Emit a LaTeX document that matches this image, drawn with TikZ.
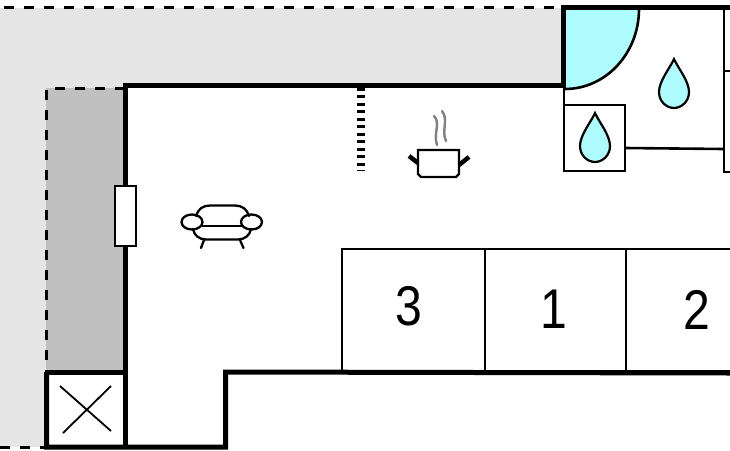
\documentclass[tikz,border=0pt]{standalone}
\usepackage{fontspec}
\setmainfont{Liberation Sans}
\newfontfamily\roomfont[FakeStretch=0.86]{Liberation Sans}
\definecolor{yardgrey}{HTML}{E5E5E5}
\definecolor{terracegrey}{HTML}{C0C0C0}
\definecolor{wetblue}{HTML}{AEFBFD}
\tikzset{
	wall/.style={black, line width=5pt, line join=miter},
	thinwall/.style={black, line width=2.6pt},
	border/.style={black, line width=3pt, dash pattern=on 10pt off 10pt},
	icon/.style={black, line width=2.3pt, line cap=round},
	roombox/.style={draw=black, line width=2pt, outer sep=0pt, minimum width=143pt, minimum height=122pt, anchor=north west},
	roomlabel/.style={inner sep=0pt, font=\roomfont\fontsize{56}{56}\selectfont},
	drop/.style={draw=black, fill=wetblue, line width=2.2pt}
}
\begin{document}
\begin{tikzpicture}[x=1pt, y=-1pt]
\useasboundingbox (0, 0) rectangle (730, 450);

% outside
\fill[yardgrey] (0, 8) -- (563, 8) -- (563, 85) -- (125, 85) -- (125, 88) -- (46, 88) -- (46, 447) -- (0, 447) -- cycle;
\fill[terracegrey] (46, 88) rectangle (125, 372);
\draw[border] (4, 7.5) -- (563, 7.5);
\draw[border] (125, 88) -- (46.5, 88) -- (46.5, 372);
\draw[border] (0, 447) -- (46, 447);

% bathroom
\fill[wetblue] (565, 9) -- (639, 9) arc (0:90:74 and 80) -- cycle;
\draw[thinwall] (639, 9) arc (0:90:74 and 80);
\draw[thinwall] (564, 86) -- (564, 171) -- (625, 171) -- (625, 105) -- (564, 105);
\draw[thinwall] (625, 148) -- (724, 149);
\draw[thinwall] (724, 8) -- (724, 172) -- (730, 172);
\draw[thinwall] (724, 71) -- (730, 71);
\foreach \xa/\ya in {674/59, 595/113} {
	\draw[drop] (\xa, \ya) .. controls (\xa+4, \ya+9) and (\xa+15, \ya+22) .. (\xa+15, \ya+33)
		.. controls (\xa+15, \ya+43) and (\xa+7, \ya+49) .. (\xa, \ya+49)
		.. controls (\xa-7, \ya+49) and (\xa-15, \ya+43) .. (\xa-15, \ya+33)
		.. controls (\xa-15, \ya+22) and (\xa-4, \ya+9) .. (\xa, \ya) -- cycle;
}

% walls
\draw[wall] (730, 7.5) -- (563.5, 7.5) -- (563.5, 85.5) -- (125, 85.5) -- (125, 447);
\draw[wall] (46.5, 372) -- (125, 372);
\draw[wall] (46.5, 372) -- (46.5, 447) -- (225.5, 447) -- (225.5, 372) -- (730, 373);

% window
\filldraw[fill=white, draw=black, line width=2pt] (115, 186) rectangle (136, 246);

% storage cross
\draw[black, line width=1.8pt] (60, 386) -- (111, 431);
\draw[black, line width=1.8pt] (111, 386) -- (63, 433);

% stairs
\draw[black, line width=8pt, dash pattern=on 3pt off 4.45pt] (361, 88) -- (361, 171);

% pot
\draw[icon] (418, 150) -- (459, 150) -- (459, 174) -- (456, 177) -- (421, 177) -- (418, 174) -- cycle;
\draw[black, line width=4.5pt] (409, 156) -- (418, 163);
\draw[black, line width=4.5pt] (469, 157) -- (459, 165);
\draw[gray, line width=2.4pt, line cap=round] (434, 116) .. controls (441, 123) and (433, 133) .. (437, 145);
\draw[gray, line width=2.4pt, line cap=round] (442, 111) .. controls (449, 120) and (441, 130) .. (446, 141);

% armchair
\draw[icon] (196, 216) .. controls (198, 209) and (203, 205.5) .. (210, 205.5) -- (235, 205.5) .. controls (242, 205.5) and (247, 209) .. (249, 216);
\draw[icon] (202, 226) -- (242, 226);
\draw[icon] (193, 229) .. controls (194, 235) and (199, 239.5) .. (206, 239.5) -- (238, 239.5) .. controls (245, 239.5) and (250, 235) .. (251, 229);
\draw[icon] (192, 222) ellipse (10.5 and 7.5);
\draw[icon] (251.5, 222) ellipse (10.5 and 7.5);
\draw[icon] (204, 240) -- (201, 248);
\draw[icon] (240, 240) -- (243.5, 248);

% rooms
\node[roombox] (roomthree) at (341.5, 248.5) {};
\node[roombox, minimum width=141pt] (roomone) at (484.5, 248.5) {};
\node[roombox] (roomtwo) at (625.5, 248.5) {};
\node[roomlabel] (labelthree) at (408.5, 306.5) {3};
\node[roomlabel] (labelone) at (554, 309.5) {1};
\node[roomlabel] (labeltwo) at (696.5, 309.5) {2};

\end{tikzpicture}
\end{document}
